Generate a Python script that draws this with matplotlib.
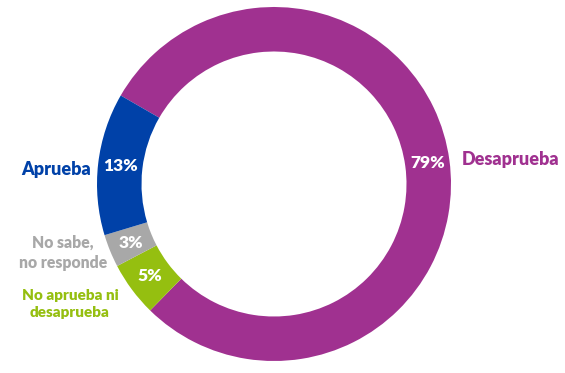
import matplotlib.pyplot as plt

categories = ['Desaprueba', 'No aprueba ni\ndesaprueba', 'No sabe,\nno responde', 'Aprueba']
values = [79, 5, 3, 13]
colors = ['#A03190', '#95BF10', '#A8A8A8', '#0041A8']

plt.rcParams['font.family'] = ['Lato', 'DejaVu Sans']

fig = plt.figure(figsize=(5.65, 3.73), dpi=100)
ax = fig.add_axes([0, 0, 1, 1])

wedges, texts, autotexts = ax.pie(
    values, colors=colors, startangle=150, counterclock=False,
    center=(274, 189), radius=177, autopct='%d%%', pctdistance=0.875,
    wedgeprops=dict(width=44.5, edgecolor='none'),
    textprops=dict(color='white', fontsize=12.5, fontweight='heavy'))

# category labels beside the ring
ax.text(91, 203, categories[3], color=colors[3], fontsize=13, fontweight='heavy',
        ha='right', va='center')
ax.text(462, 213, categories[0], color=colors[0], fontsize=13, fontweight='heavy',
        ha='left', va='center')
ax.text(107, 120, categories[2], color=colors[2], fontsize=11.3, fontweight='heavy',
        ha='right', va='center', multialignment='center', linespacing=1.3)
ax.text(70, 69, categories[1], color=colors[1], fontsize=11, fontweight='heavy',
        ha='center', va='center', linespacing=1.3)

ax.set_xlim(0, 565)
ax.set_ylim(0, 373)
ax.set_aspect('equal')
ax.axis('off')

fig.savefig('out.png', dpi=100)
